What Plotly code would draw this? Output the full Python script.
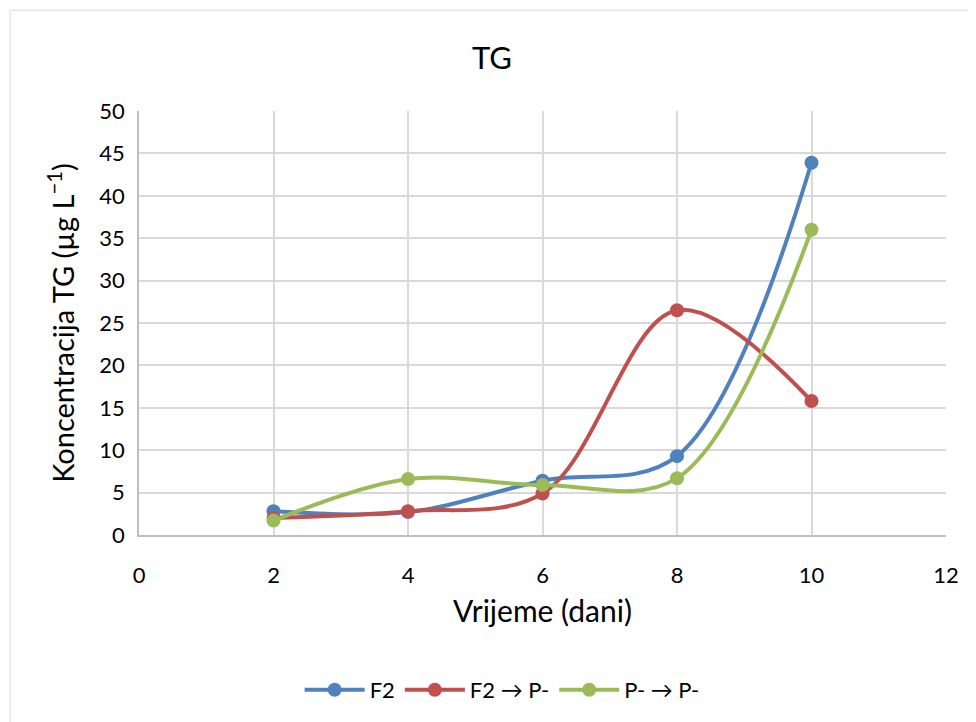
import plotly.graph_objects as go

days = [2, 4, 6, 8, 10]
f2 = [2.8, 2.7, 6.4, 9.3, 43.9]
f2_p = [2.0, 2.8, 4.9, 26.5, 15.8]
p_p = [1.7, 6.6, 5.9, 6.7, 36.0]

names = ["F2", "F2 → P-", "P- → P-"]
colors = ["#4F81BD", "#C0504D", "#9BBB59"]

OFF = 8  # page body margin
W, H = 976 - OFF, 722 - OFF
L, R, T, B = 139 - OFF, 946 - OFF, 111 - OFF, 536 - OFF

fig = go.Figure()
for name, ys, c in zip(names, [f2, f2_p, p_p], colors):
    fig.add_trace(go.Scatter(
        x=days, y=ys, name=name, mode="lines+markers",
        line=dict(color=c, width=4, shape="spline", smoothing=1.0),
        marker=dict(color=c, size=14),
    ))

def px(x):
    return (x - OFF - L) / (R - L)

def py(y):
    return (B - (y - OFF)) / (B - T)

fig.add_shape(type="rect", xref="paper", yref="paper",
              x0=px(10), x1=px(980), y0=py(730), y1=py(10),
              line=dict(color="#D9D9D9", width=1), layer="below")

fig.update_layout(
    width=W, height=H,
    margin=dict(l=L, r=W - R, t=T, b=H - B),
    paper_bgcolor="white", plot_bgcolor="white",
    font=dict(family="Lato, Open Sans, sans-serif", color="black", size=22),
    title=dict(text="TG", x=0.5, xanchor="center", y=1 - (58 - OFF) / H, yanchor="middle",
               font=dict(size=31)),
    xaxis=dict(range=[0, 12], tickvals=[0, 2, 4, 6, 8, 10, 12], showgrid=True,
               gridcolor="#D9D9D9", gridwidth=1.5, zeroline=False,
               showline=True, linecolor="#BFBFBF", linewidth=1.5,
               ticks="", tickfont=dict(size=22), ticklabelstandoff=20,
               title=dict(text="Vrijeme (dani)", font=dict(size=30), standoff=14)),
    yaxis=dict(range=[0, 50], tickvals=list(range(0, 51, 5)), showgrid=True,
               gridcolor="#D9D9D9", gridwidth=1.5, zeroline=False,
               showline=True, linecolor="#BFBFBF", linewidth=1.5,
               ticks="", tickfont=dict(size=22), ticklabelstandoff=8,
               title=dict(text="Koncentracija TG (µg L<sup>−1</sup>)", font=dict(size=29), standoff=16)),
    legend=dict(orientation="h", x=0.45, xanchor="center", y=py(690), yanchor="middle",
                font=dict(size=22), itemwidth=60),
    showlegend=True,
)

fig.write_html("out.html")
